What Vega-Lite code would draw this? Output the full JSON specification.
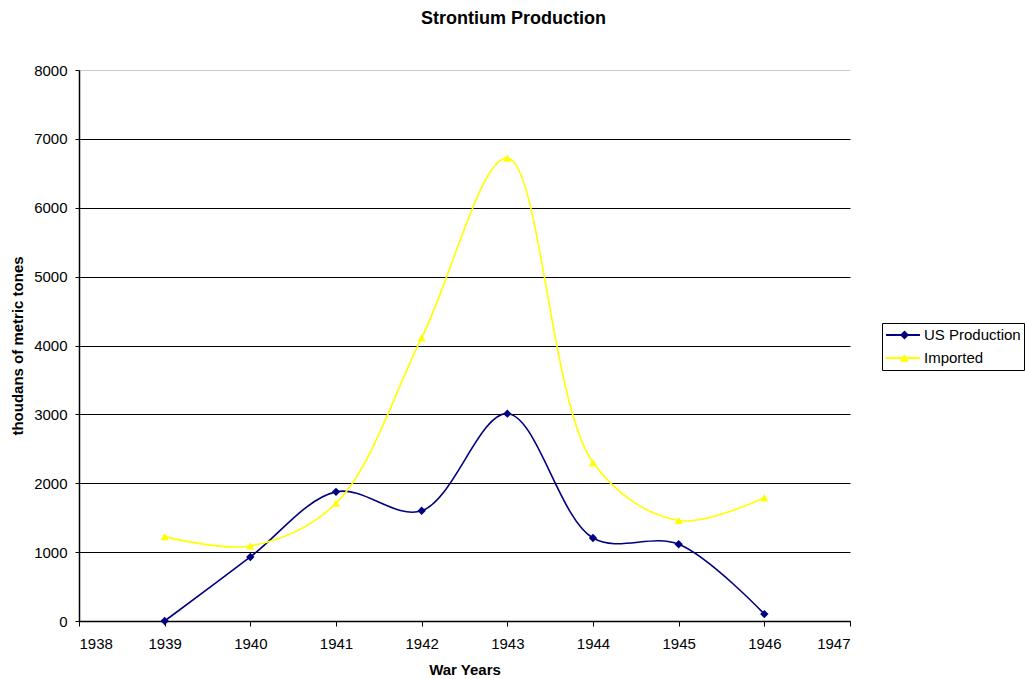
{
  "$schema": "https://vega.github.io/schema/vega-lite/v6.json",
  "autosize": {"type": "none"},
  "padding": {"left": 79, "top": 70, "right": 175, "bottom": 58},
  "width": 771,
  "height": 551,
  "background": "white",
  "config": {
    "font": "Liberation Sans",
    "view": {"stroke": null}
  },
  "title": {
    "text": "Strontium Production",
    "fontSize": 18,
    "fontWeight": "bold",
    "font": "Liberation Sans",
    "anchor": "middle",
    "dx": 49,
    "offset": 35,
    "color": "black"
  },
  "data": {
    "values": [
      {"year": 1939, "series": "US Production", "value": 0},
      {"year": 1940, "series": "US Production", "value": 930},
      {"year": 1941, "series": "US Production", "value": 1875},
      {"year": 1942, "series": "US Production", "value": 1600},
      {"year": 1943, "series": "US Production", "value": 3010},
      {"year": 1944, "series": "US Production", "value": 1205},
      {"year": 1945, "series": "US Production", "value": 1115},
      {"year": 1946, "series": "US Production", "value": 100},
      {"year": 1939, "series": "Imported", "value": 1225},
      {"year": 1940, "series": "Imported", "value": 1090},
      {"year": 1941, "series": "Imported", "value": 1710},
      {"year": 1942, "series": "Imported", "value": 4110},
      {"year": 1943, "series": "Imported", "value": 6720},
      {"year": 1944, "series": "Imported", "value": 2300},
      {"year": 1945, "series": "Imported", "value": 1460},
      {"year": 1946, "series": "Imported", "value": 1790}
    ]
  },
  "encoding": {
    "x": {
      "field": "year",
      "type": "quantitative",
      "scale": {"domain": [1938, 1947], "nice": false, "zero": false},
      "axis": {
        "title": "War Years",
        "titleFontSize": 15,
        "titleFontWeight": "bold",
        "titleColor": "black",
        "titlePadding": 11,
        "values": [1938, 1939, 1940, 1941, 1942, 1943, 1944, 1945, 1946, 1947],
        "format": "d",
        "labelFontSize": 15,
        "labelColor": "black",
        "labelPadding": 10,
        "tickSize": 5,
        "tickColor": "black",
        "domainColor": "black",
        "domainWidth": 1.5,
        "grid": false
      }
    },
    "y": {
      "field": "value",
      "type": "quantitative",
      "scale": {"domain": [0, 8000], "nice": false},
      "axis": {
        "title": "thoudans of metric tones",
        "titleFontSize": 15,
        "titleFontWeight": "bold",
        "titleColor": "black",
        "titlePadding": 8,
        "values": [0, 1000, 2000, 3000, 4000, 5000, 6000, 7000, 8000],
        "format": "d",
        "labelFontSize": 15,
        "labelColor": "black",
        "labelPadding": 8,
        "tickSize": 4,
        "tickColor": "black",
        "domainColor": "black",
        "domainWidth": 1.5,
        "grid": true,
        "gridColor": {"condition": {"test": "datum.value === 8000", "value": "#cccccc"}, "value": "black"},
        "gridWidth": 1.2
      }
    }
  },
  "layer": [
    {
      "mark": {"type": "line", "interpolate": "catmull-rom", "strokeWidth": 1.6},
      "encoding": {
        "color": {
          "field": "series",
          "type": "nominal",
          "scale": {"domain": ["US Production", "Imported"], "range": ["#000080", "#FFFF00"]},
          "legend": {
            "title": null,
            "orient": "none",
            "legendX": 803,
            "legendY": 253,
            "strokeColor": "black",
            "fillColor": "white",
            "padding": 3,
            "symbolType": "stroke",
            "symbolSize": 1150,
            "symbolStrokeWidth": 2,
            "labelOffset": 3,
            "labelFontSize": 15,
            "labelColor": "black",
            "rowPadding": 5,
            "clipHeight": 18,
            "zindex": 1
          }
        }
      }
    },
    {
      "mark": {"type": "point", "filled": true, "size": 70, "opacity": 1, "strokeWidth": 0},
      "encoding": {
        "fill": {
          "field": "series",
          "type": "nominal",
          "scale": {"domain": ["Imported", "US Production"], "range": ["#FFFF00", "#000080"]},
          "legend": {
            "title": null,
            "orient": "none",
            "legendX": 815,
            "legendY": 253,
            "padding": 3,
            "values": ["US Production", "Imported"],
            "symbolSize": 80,
            "symbolStrokeWidth": 0,
            "symbolOpacity": 1,
            "labelExpr": "''",
            "labelFontSize": 15,
            "rowPadding": 5,
            "clipHeight": 18,
            "zindex": 2
          }
        },
        "shape": {
          "field": "series",
          "type": "nominal",
          "scale": {"domain": ["Imported", "US Production"], "range": ["triangle-up", "diamond"]},
          "legend": {
            "title": null,
            "orient": "none",
            "legendX": 815,
            "legendY": 253,
            "padding": 3,
            "values": ["US Production", "Imported"],
            "symbolSize": 80,
            "symbolStrokeWidth": 0,
            "symbolOpacity": 1,
            "labelExpr": "''",
            "labelFontSize": 15,
            "rowPadding": 5,
            "clipHeight": 18,
            "zindex": 2
          }
        }
      }
    }
  ]
}
